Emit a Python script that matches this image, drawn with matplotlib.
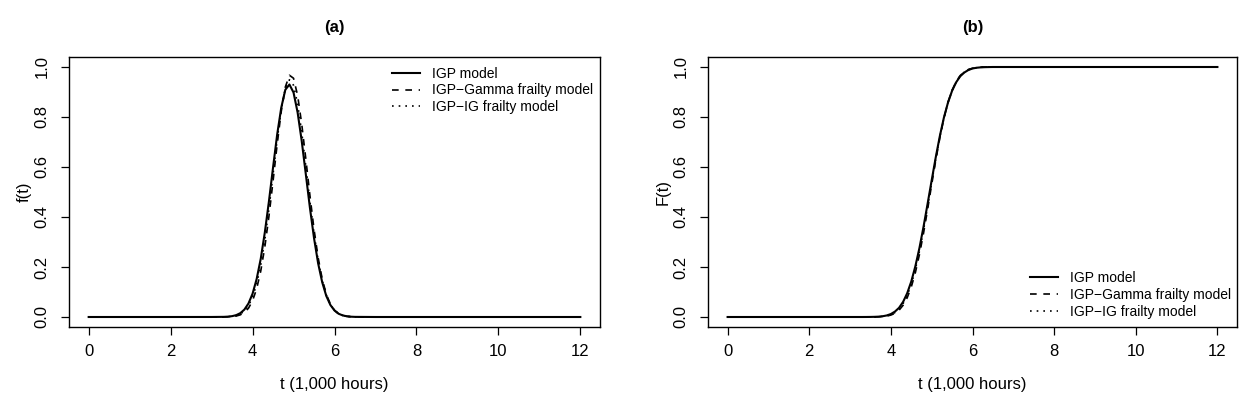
import matplotlib
matplotlib.use("Agg")
import matplotlib.pyplot as plt
import numpy as np

plt.rcParams['font.family'] = ['Liberation Sans', 'DejaVu Sans']

# ---------------- data ----------------
t_tail_left = [0, 1, 2, 3]
t_core = [3.3, 3.4, 3.5, 3.6, 3.7, 3.8, 3.9, 4.0, 4.1, 4.2, 4.3, 4.4, 4.5, 4.6, 4.7, 4.8, 4.9,
          5.0, 5.1, 5.2, 5.3, 5.4, 5.5, 5.6, 5.7, 5.8, 5.9, 6.0, 6.1, 6.2, 6.3, 6.4, 6.5]
t_tail_right = [7, 8, 9, 10, 11, 12]
t_all = t_tail_left + t_core + t_tail_right

# density f(t)
pdf_igp = [0, 0, 0, 0.0001,
           0.0006, 0.0015, 0.0034, 0.0074, 0.0153, 0.0296, 0.054, 0.093, 0.152, 0.233, 0.339, 0.463,
           0.598, 0.729, 0.837, 0.909, 0.930, 0.898, 0.818, 0.704, 0.571, 0.437, 0.316, 0.215,
           0.139, 0.084, 0.048, 0.026, 0.013, 0.0064, 0.0029, 0.0012, 0.0005,
           0, 0, 0, 0, 0, 0]
pdf_gamma = [0, 0, 0, 0.0,
             0.0002, 0.0006, 0.0016, 0.0039, 0.0086, 0.018, 0.035, 0.065, 0.113, 0.184, 0.281, 0.403,
             0.544, 0.690, 0.822, 0.920, 0.967, 0.955, 0.886, 0.772, 0.632, 0.486, 0.351, 0.238,
             0.152, 0.091, 0.051, 0.027, 0.013, 0.0063, 0.0027, 0.0011, 0.0004,
             0, 0, 0, 0, 0, 0]
pdf_ig = [0, 0, 0, 0.0,
          0.0004, 0.001, 0.0025, 0.0057, 0.012, 0.024, 0.045, 0.079, 0.133, 0.209, 0.310, 0.433,
          0.571, 0.710, 0.830, 0.915, 0.949, 0.927, 0.852, 0.738, 0.602, 0.462, 0.334, 0.227,
          0.146, 0.088, 0.050, 0.027, 0.013, 0.0064, 0.0028, 0.0012, 0.0005,
          0, 0, 0, 0, 0, 0]

# distribution F(t)
cdf_igp = [0, 0, 0, 0,
           0.0, 0.0001, 0.0003, 0.0007, 0.0014, 0.0031, 0.0062, 0.0119, 0.0217, 0.0367, 0.0606, 0.0951,
           0.142, 0.203, 0.276, 0.361, 0.453, 0.547, 0.639, 0.724, 0.798, 0.858, 0.905, 0.939,
           0.963, 0.978, 0.988, 0.994, 0.997, 0.9986, 0.9993, 0.9997, 1.0,
           1, 1, 1, 1, 1, 1]
cdf_gamma = [0, 0, 0, 0,
             0.0, 0.0, 0.0001, 0.0003, 0.0007, 0.0017, 0.0037, 0.0077, 0.0148, 0.0271, 0.047, 0.077,
             0.120, 0.1775, 0.250, 0.335, 0.4305, 0.530, 0.627, 0.717, 0.795, 0.859, 0.907, 0.942,
             0.966, 0.981, 0.990, 0.995, 0.998, 0.9991, 0.9996, 0.9998, 1.0,
             1, 1, 1, 1, 1, 1]
cdf_ig = [0, 0, 0, 0,
          0.0, 0.0001, 0.0002, 0.0005, 0.001, 0.0024, 0.005, 0.0098, 0.018, 0.032, 0.054, 0.086,
          0.131, 0.190, 0.263, 0.348, 0.442, 0.538, 0.633, 0.720, 0.796, 0.858, 0.906, 0.940,
          0.964, 0.980, 0.989, 0.994, 0.997, 0.999, 0.9995, 0.9998, 1.0,
          1, 1, 1, 1, 1, 1]

series_labels = ["IGP model", "IGP\u2212Gamma frailty model", "IGP\u2212IG frailty model"]
x_ticks = [0, 2, 4, 6, 8, 10, 12]
y_ticks = [0.0, 0.2, 0.4, 0.6, 0.8, 1.0]

# ---------------- figure ----------------
fig = plt.figure(figsize=(12.45, 3.98), dpi=100)
W, H = 1245, 398
ax1 = fig.add_axes([69 / W, 1 - 327 / H, 531 / W, 270 / H])
ax2 = fig.add_axes([708 / W, 1 - 327 / H, 529 / W, 270 / H])

styles = [dict(ls='-', lw=1.5), dict(ls=(0, (4, 4)), lw=1.2), dict(ls=(0, (1, 3)), lw=1.2)]


def setup(ax, title, ylabel):
    ax.set_xlim(-0.48, 12.48)
    ax.set_ylim(-0.04, 1.04)
    ax.set_xticks(x_ticks)
    ax.set_xticklabels([str(v) for v in x_ticks])
    ax.set_yticks(y_ticks)
    ax.set_yticklabels([f"{v:.1f}" for v in y_ticks], rotation=90, va='center')
    ax.tick_params(direction='out', length=6, width=0.9, labelsize=12, colors='black')
    ax.tick_params(axis='x', pad=6)
    ax.tick_params(axis='y', pad=8)
    for s in ax.spines.values():
        s.set_linewidth(1.0)
    ax.set_xlabel("t (1,000 hours)", fontsize=12, labelpad=13)
    ax.set_ylabel(ylabel, fontsize=12, labelpad=2)
    ax.set_title(title, fontsize=12, fontweight='bold', pad=18)


setup(ax1, "(a)", "f(t)")
setup(ax2, "(b)", "F(t)")

for data, st, lab in zip([pdf_igp, pdf_gamma, pdf_ig], styles, series_labels):
    ax1.plot(t_all, data, color='black', label=lab, **st)
for data, st, lab in zip([cdf_igp, cdf_gamma, cdf_ig], styles, series_labels):
    ax2.plot(t_all, data, color='black', label=lab, **st)

leg_kw = dict(frameon=False, fontsize=10, handlelength=2.0, handletextpad=0.9,
              labelspacing=0.2, borderaxespad=0.0, borderpad=0.4)
ax1.legend(loc='upper right', bbox_to_anchor=(0.998, 0.985), **leg_kw)
ax2.legend(loc='lower right', bbox_to_anchor=(1.0, 0.01), **leg_kw)

fig.savefig("out.png", dpi=100)
